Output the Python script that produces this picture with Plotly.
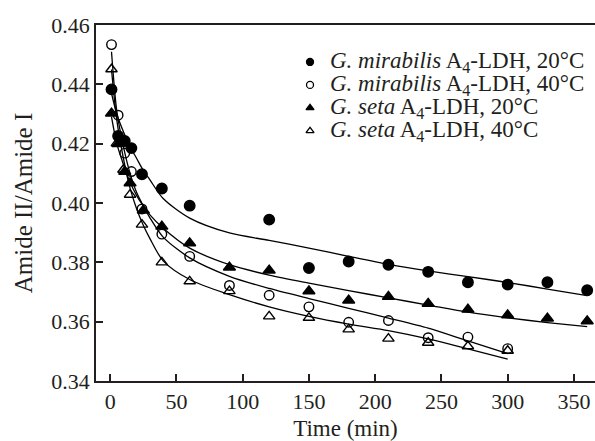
import plotly.graph_objects as go

# ---------------- data ----------------
t_gm20 = [1, 6, 11, 16, 24, 39, 60, 120, 150, 180, 210, 240, 270, 300, 330, 360]
v_gm20 = [0.4383, 0.4226, 0.4209, 0.4185, 0.4097, 0.4049, 0.3991, 0.3944, 0.3781,
          0.3803, 0.3792, 0.3768, 0.3733, 0.3725, 0.3733, 0.3706]

t_gm40 = [1, 6, 11, 16, 24, 39, 60, 90, 120, 150, 180, 210, 240, 270, 300]
v_gm40 = [0.4534, 0.4296, 0.4168, 0.4106, 0.3980, 0.3895, 0.3820, 0.3722, 0.3689,
          0.3650, 0.3598, 0.3604, 0.3546, 0.3548, 0.3509]

t_gs20 = [1, 6, 11, 15, 25, 39, 60, 90, 120, 150, 180, 210, 240, 270, 300, 330, 360]
v_gs20 = [0.4302, 0.4199, 0.4106, 0.4067, 0.3975, 0.3921, 0.3865, 0.3783, 0.3773,
          0.3703, 0.3672, 0.3684, 0.3661, 0.3641, 0.3622, 0.3611, 0.3602]

t_gs40 = [1, 5, 10, 15, 24, 39, 60, 90, 120, 150, 180, 210, 240, 270, 300]
v_gs40 = [0.4451, 0.4201, 0.4112, 0.4028, 0.3927, 0.3800, 0.3736, 0.3703, 0.3618,
          0.3613, 0.3574, 0.3543, 0.3529, 0.3517, 0.3502]

# fitted curves, read at selected times
fit_t_long = [1, 5, 10, 15, 20, 25, 30, 40, 60, 90, 120, 150, 180, 210, 240, 270, 300, 330, 360]
fit_t_short = [1, 5, 10, 15, 20, 25, 30, 40, 60, 90, 120, 150, 180, 210, 240, 270, 300]
fit_gm20 = [0.437, 0.430, 0.424, 0.419, 0.415, 0.411, 0.4078, 0.4015, 0.3949, 0.3899,
            0.3874, 0.3848, 0.3820, 0.3793, 0.3771, 0.3752, 0.3732, 0.3710, 0.3688]
fit_gs20 = [0.429, 0.420, 0.413, 0.407, 0.4025, 0.399, 0.396, 0.3915, 0.3848, 0.3792,
            0.3757, 0.3730, 0.3705, 0.3680, 0.3656, 0.3632, 0.3613, 0.3597, 0.3583]
fit_gm40 = [0.451, 0.431, 0.419, 0.410, 0.4035, 0.399, 0.395, 0.3885, 0.3815, 0.3753,
            0.3712, 0.3678, 0.3645, 0.3612, 0.3578, 0.3535, 0.3492]
fit_gs40 = [0.445, 0.428, 0.415, 0.405, 0.398, 0.3925, 0.388, 0.3805, 0.3742, 0.3691,
            0.3650, 0.3618, 0.3592, 0.3570, 0.3542, 0.3508, 0.3474]

x_ticks = [0, 50, 100, 150, 200, 250, 300, 350]
y_ticks = [0.34, 0.36, 0.38, 0.40, 0.42, 0.44, 0.46]

legend_labels = [
    "<i>G. mirabilis</i> A<sub>4</sub>-LDH, 20°C",
    "<i>G. mirabilis</i> A<sub>4</sub>-LDH, 40°C",
    "<i>G. seta</i> A<sub>4</sub>-LDH, 20°C",
    "<i>G. seta</i> A<sub>4</sub>-LDH, 40°C",
]
legend_symbols = ["circle", "circle-open", "triangle-up", "triangle-up-open"]

# ---------------- figure ----------------
FONT = "Liberation Serif"
INK = "#231f20"
fig = go.Figure()

line_style = dict(color="black", width=1.3, shape="spline", smoothing=0.8)
for xs, ys in [(fit_t_long, fit_gm20), (fit_t_long, fit_gs20),
               (fit_t_short, fit_gm40), (fit_t_short, fit_gs40)]:
    fig.add_trace(go.Scatter(x=xs, y=ys, mode="lines", line=line_style,
                             showlegend=False, hoverinfo="skip"))

series = [(t_gm20, v_gm20, "circle", 10.5), (t_gm40, v_gm40, "circle-open", 9.5),
          (t_gs20, v_gs20, "triangle-up", 10.5), (t_gs40, v_gs40, "triangle-up-open", 10)]
for xs, ys, sym, sz in series:
    fig.add_trace(go.Scatter(x=xs, y=ys, mode="markers",
                             marker=dict(symbol=sym, size=sz, color="black",
                                         line=dict(color="black", width=1.4)),
                             showlegend=False))

# custom legend (tight row spacing as in the reference)
row_marker_y = [0.8962, 0.8317, 0.7672, 0.7027]
row_text_y = [0.8955, 0.8310, 0.7665, 0.7020]
for sym, my in zip(legend_symbols, row_marker_y):
    fig.add_trace(go.Scatter(x=[0.4289], y=[my], mode="markers", xaxis="x2", yaxis="y2",
                             marker=dict(symbol=sym, size=7, color="black",
                                         line=dict(color="black", width=1.3)),
                             showlegend=False, cliponaxis=False, hoverinfo="skip"))
for lab, ty in zip(legend_labels, row_text_y):
    fig.add_annotation(x=0.465, y=ty, xref="paper", yref="paper", text=lab,
                       showarrow=False, xanchor="left", yanchor="middle",
                       font=dict(family=FONT, size=23, color=INK))

axis_common = dict(showgrid=False, zeroline=False, ticks="inside", ticklen=7,
                   tickwidth=1.5, tickcolor=INK, linecolor=INK, linewidth=1.6,
                   showline=True, automargin=False,
                   tickfont=dict(family=FONT, size=22, color=INK))

fig.update_layout(
    width=595, height=441,
    margin=dict(l=96, r=0, t=25, b=60),
    paper_bgcolor="white", plot_bgcolor="white",
    xaxis=dict(range=[-10.7, 365.9], tickvals=x_ticks, mirror=True,
               title=dict(text="Time (min)", font=dict(family=FONT, size=23, color=INK),
                          standoff=10),
               **axis_common),
    yaxis=dict(range=[0.34, 0.46], tickvals=y_ticks, tickformat=".2f",
               title=dict(text="Amide II/Amide I", font=dict(family=FONT, size=25, color=INK),
                          standoff=12),
               **axis_common),
    xaxis2=dict(range=[0, 1], overlaying="x", visible=False, anchor="y2"),
    yaxis2=dict(range=[0, 1], overlaying="y", visible=False, anchor="x2"),
)

fig.write_html(
    "out.html",
    config={"displayModeBar": False},
    post_script="document.body.style.margin='0';document.body.style.padding='0';"
                "document.body.style.overflow='hidden';",
)
